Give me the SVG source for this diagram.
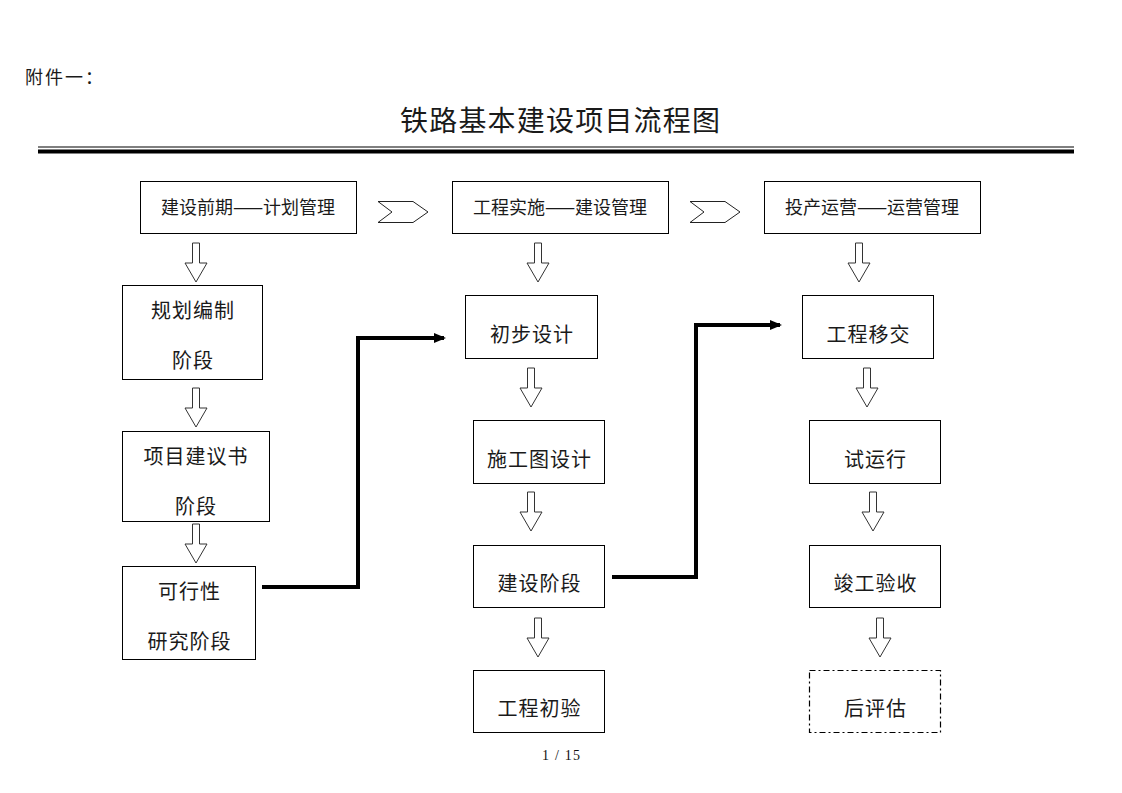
<svg xmlns="http://www.w3.org/2000/svg" width="1122" height="793" viewBox="0 0 1122 793">
<style>
.box{fill:#fff;stroke:#000;stroke-width:1}
.dash{fill:#fff;stroke:#000;stroke-width:1.2;stroke-dasharray:6 3 2 3}
.t{font-family:"Noto Sans CJK SC","Noto Sans CJK JP",sans-serif;font-size:20px;letter-spacing:1px;fill:#1a1a1a;text-anchor:middle}
.h{font-family:"Noto Sans CJK SC","Noto Sans CJK JP",sans-serif;font-size:18px;fill:#1a1a1a;text-anchor:middle}
.da{fill:#fff;stroke:#333;stroke-width:1}
.chev{fill:#fff;stroke:#222;stroke-width:1}
.conn{fill:none;stroke:#000;stroke-width:4}
</style>
<defs>
<marker id="ah" markerWidth="3" markerHeight="2.5" refX="2.5" refY="1.25" orient="auto" markerUnits="strokeWidth">
<path d="M0,0 L3,1.25 L0,2.5 z" fill="#000"/>
</marker>
<path id="darrow" d="M-3.5,0 h7 v20 h7.5 l-11,19 l-11,-19 h7.5 z"/>
</defs>
<rect width="1122" height="793" fill="#fff"/>
<text x="25" y="84" style="font-family:'Noto Sans CJK SC',sans-serif;font-size:18px;letter-spacing:2px;fill:#1a1a1a">附件一：</text>
<text x="560" y="131" textLength="320" lengthAdjust="spacing" style="font-family:'Noto Sans CJK SC',sans-serif;font-size:28px;fill:#1a1a1a;text-anchor:middle">铁路基本建设项目流程图</text>
<line x1="38" y1="147" x2="1074" y2="147" stroke="#555" stroke-width="1.5"/>
<line x1="38" y1="151.5" x2="1074" y2="151.5" stroke="#000" stroke-width="4"/>

<g id="hdr1"><rect class="box" x="140.5" y="181.5" width="216" height="52"/><text class="h" x="248" y="214">建设前期——计划管理</text></g>
<g id="hdr2"><rect class="box" x="452.5" y="181.5" width="216" height="52"/><text class="h" x="560" y="214">工程实施——建设管理</text></g>
<g id="hdr3"><rect class="box" x="764.5" y="181.5" width="216" height="52"/><text class="h" x="872" y="214">投产运营——运营管理</text></g>
<g id="chev1"><path class="chev" d="M378,201.5 H413 L428,212 L413,222.5 H378 L392,212 Z"/></g>
<g id="chev2"><path class="chev" d="M690,201.5 H725 L740,212 L725,222.5 H690 L704,212 Z"/></g>

<g id="n1"><rect class="box" x="122.5" y="285.5" width="140" height="94"/><text class="t" x="193" y="318">规划编制</text><text class="t" x="193" y="368">阶段</text></g>
<g id="n2"><rect class="box" x="122.5" y="431.5" width="147" height="90"/><text class="t" x="196" y="464">项目建议书</text><text class="t" x="196" y="514">阶段</text></g>
<g id="n3"><rect class="box" x="122.5" y="566.5" width="133" height="93"/><text class="t" x="189.5" y="599">可行性</text><text class="t" x="189.5" y="649">研究阶段</text></g>

<g id="m1"><rect class="box" x="465.5" y="295.5" width="132" height="63"/><text class="t" x="532" y="342">初步设计</text></g>
<g id="m2"><rect class="box" x="473.5" y="420.5" width="131" height="63"/><text class="t" x="539.5" y="467">施工图设计</text></g>
<g id="m3"><rect class="box" x="473.5" y="545.5" width="131" height="62"/><text class="t" x="539.5" y="591">建设阶段</text></g>
<g id="m4"><rect class="box" x="473.5" y="670.5" width="131" height="62"/><text class="t" x="539.5" y="716">工程初验</text></g>

<g id="r1"><rect class="box" x="802.5" y="295.5" width="131" height="63"/><text class="t" x="868.5" y="342">工程移交</text></g>
<g id="r2"><rect class="box" x="809.5" y="420.5" width="131" height="63"/><text class="t" x="875.5" y="467">试运行</text></g>
<g id="r3"><rect class="box" x="809.5" y="545.5" width="131" height="62"/><text class="t" x="875.5" y="591">竣工验收</text></g>
<g id="r4"><rect class="dash" x="809.5" y="670.5" width="131" height="62"/><text class="t" x="875.5" y="716">后评估</text></g>

<g id="downarrows">
<use href="#darrow" class="da" transform="translate(196,243)"/>
<use href="#darrow" class="da" transform="translate(196,388)"/>
<use href="#darrow" class="da" transform="translate(196,524)"/>
<use href="#darrow" class="da" transform="translate(538,243)"/>
<use href="#darrow" class="da" transform="translate(531,368)"/>
<use href="#darrow" class="da" transform="translate(531,492)"/>
<use href="#darrow" class="da" transform="translate(538,618)"/>
<use href="#darrow" class="da" transform="translate(859,243)"/>
<use href="#darrow" class="da" transform="translate(867,368)"/>
<use href="#darrow" class="da" transform="translate(873,492)"/>
<use href="#darrow" class="da" transform="translate(880,618)"/>
</g>

<g id="connectors">
<path class="conn" d="M262,587 H358 V338 H444" marker-end="url(#ah)"/>
<path class="conn" d="M612,577 H696 V325 H780" marker-end="url(#ah)"/>
</g>

<text x="561" y="760" textLength="38" lengthAdjust="spacing" style="font-family:'Liberation Serif',serif;font-size:14px;fill:#111;text-anchor:middle">1 / 15</text>
</svg>
